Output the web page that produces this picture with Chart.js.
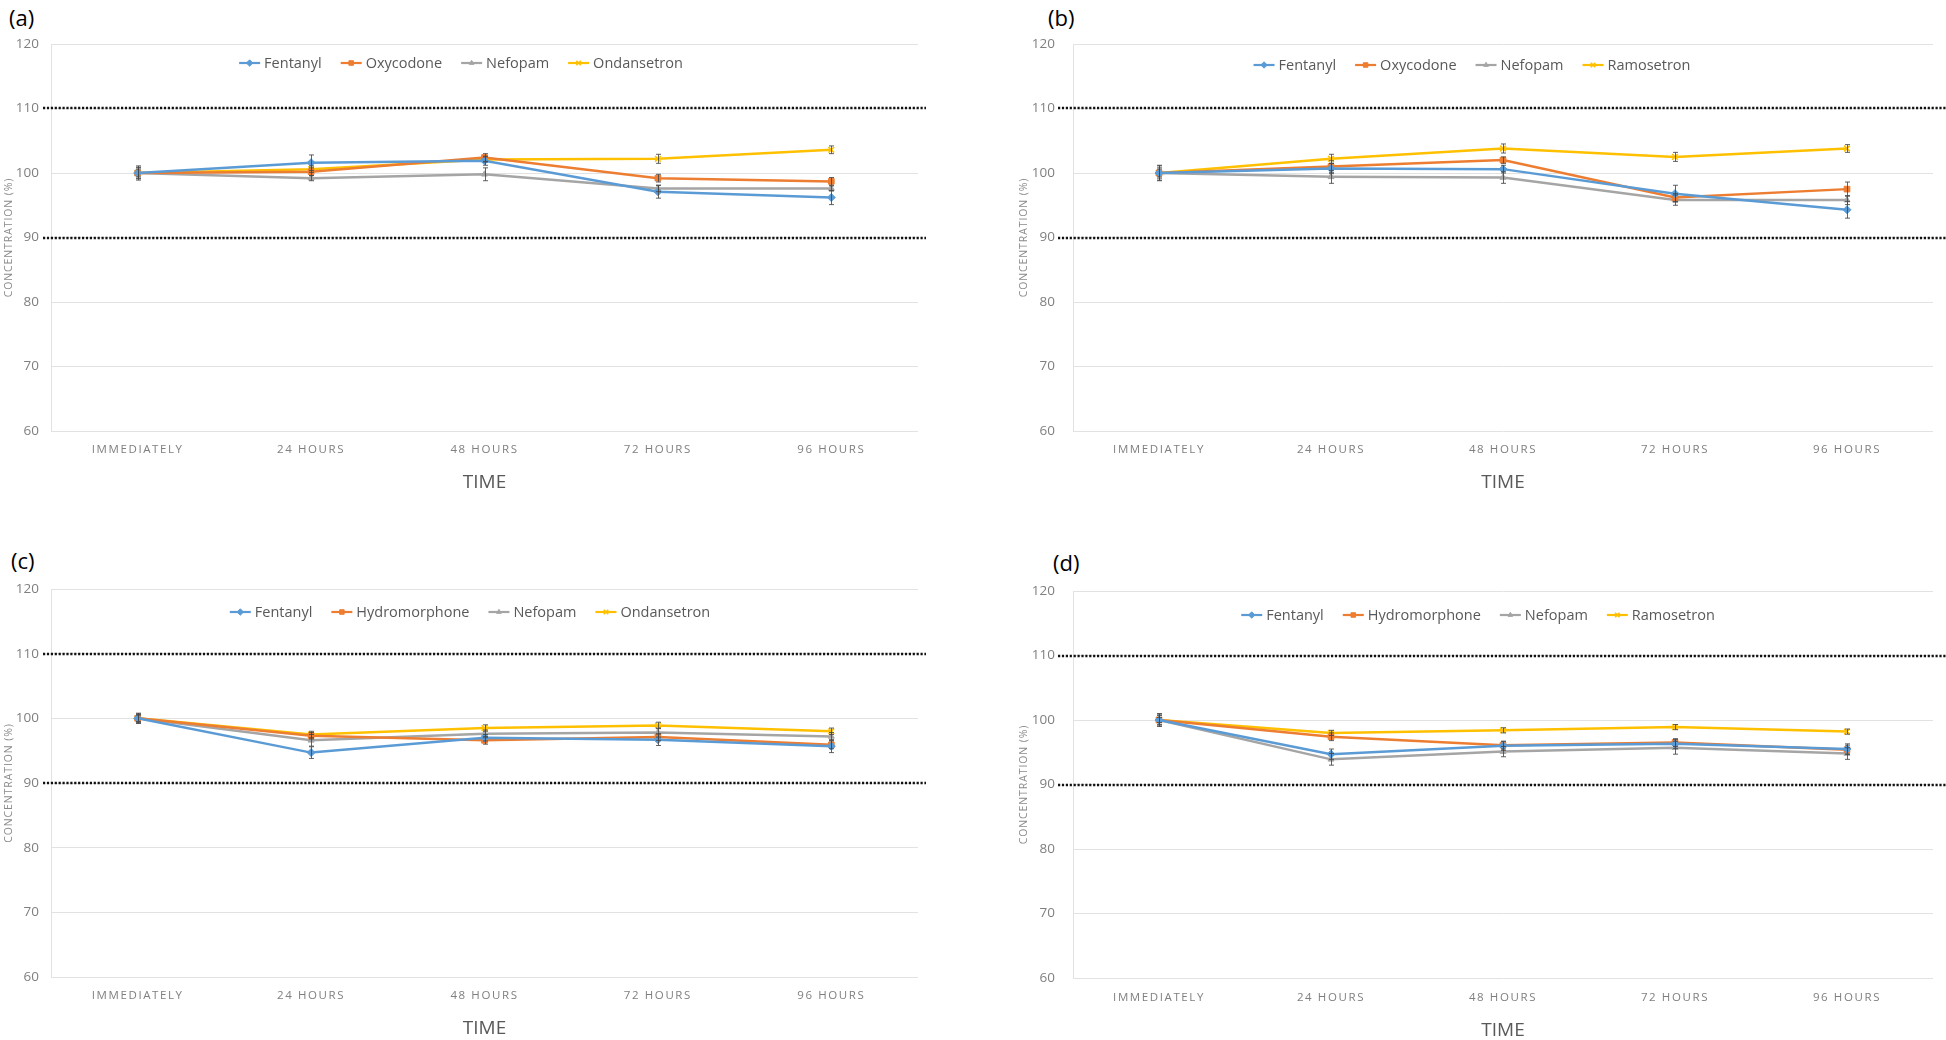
<!DOCTYPE html>
<html><head><meta charset="utf-8">
<script src="https://cdn.jsdelivr.net/npm/chart.js@4.4.1/dist/chart.umd.min.js"></script>
<style>
html,body{margin:0;padding:0;background:#fff;width:1946px;height:1040px;overflow:hidden;}
canvas{position:absolute;}
.lbl{position:absolute;font-family:"Open Sans",sans-serif;font-size:22px;color:#000;line-height:1;}
</style></head><body>
<div class="lbl" style="left:9px;top:6px">(a)</div>
<div class="lbl" style="left:1048px;top:6px">(b)</div>
<div class="lbl" style="left:11px;top:549px">(c)</div>
<div class="lbl" style="left:1053px;top:551px">(d)</div>
<canvas id="ca" width="973" height="520" style="left:0;top:0"></canvas>
<canvas id="cb" width="973" height="520" style="left:973px;top:0"></canvas>
<canvas id="cc" width="973" height="520" style="left:0;top:520px"></canvas>
<canvas id="cd" width="973" height="520" style="left:973px;top:520px"></canvas>
<script>
// ---------- data ----------
const categories = ['IMMEDIATELY', '24 HOURS', '48 HOURS', '72 HOURS', '96 HOURS'];
const yMin = 60, yMax = 120, yStep = 10;
const limitLines = [110, 90];
const xTitle = 'TIME';
const yTitle = 'CONCENTRATION (%)';

// (a)
const fentanylA     = [100, 101.6, 101.9, 97.1, 96.2];
const oxycodoneA    = [100, 100.2, 102.4, 99.2, 98.7];
const nefopamA      = [100, 99.2, 99.8, 97.6, 97.6];
const ondansetronA  = [100, 100.6, 102.1, 102.2, 103.6];
const fentanylA_sd    = [1.1, 1.2, 0.7, 1.0, 1.1];
const oxycodoneA_sd   = [0.8, 0.6, 0.6, 0.6, 0.6];
const nefopamA_sd     = [0.9, 0.4, 1.0, 0.5, 0.4];
const ondansetronA_sd = [0.6, 0.5, 0.4, 0.7, 0.6];

// (b)
const fentanylB     = [100, 100.7, 100.6, 96.8, 94.3];
const oxycodoneB    = [100, 101.0, 102.0, 96.2, 97.5];
const nefopamB      = [100, 99.4, 99.3, 95.8, 95.8];
const ramosetronB   = [100, 102.2, 103.8, 102.5, 103.8];
const fentanylB_sd    = [1.1, 0.8, 0.6, 1.3, 1.3];
const oxycodoneB_sd   = [0.8, 0.9, 0.5, 0.6, 1.1];
const nefopamB_sd     = [1.2, 1.0, 0.9, 0.8, 0.7];
const ramosetronB_sd  = [0.6, 0.7, 0.7, 0.7, 0.6];

// (c)
const fentanylC      = [100, 94.7, 97.0, 96.7, 95.7];
const hydromorphoneC = [100, 97.3, 96.6, 97.1, 95.9];
const nefopamC       = [100, 96.6, 97.6, 97.8, 97.2];
const ondansetronC   = [100, 97.5, 98.5, 98.9, 98.0];
const fentanylC_sd      = [0.7, 0.9, 0.5, 0.9, 1.0];
const hydromorphoneC_sd = [0.6, 0.5, 0.6, 0.5, 0.6];
const nefopamC_sd       = [0.8, 0.9, 0.6, 0.7, 0.6];
const ondansetronC_sd   = [0.5, 0.5, 0.5, 0.5, 0.5];

// (d)
const fentanylD      = [100, 94.7, 96.0, 96.3, 95.5];
const hydromorphoneD = [100, 97.4, 96.1, 96.5, 95.4];
const nefopamD       = [100, 93.9, 95.1, 95.7, 94.8];
const ramosetronD    = [100, 98.0, 98.4, 98.9, 98.2];
const fentanylD_sd      = [1.0, 0.8, 0.7, 0.7, 0.8];
const hydromorphoneD_sd = [0.7, 0.6, 0.6, 0.6, 0.7];
const nefopamD_sd       = [0.9, 0.9, 0.8, 1.0, 0.9];
const ramosetronD_sd    = [0.4, 0.4, 0.4, 0.4, 0.4];

// ---------- styles ----------
const C_BLUE = '#5B9BD5', C_ORANGE = '#ED7D31', C_GRAY = '#A5A5A5', C_GOLD = '#FFC000';
const FONT = '"Open Sans", "Noto Sans", sans-serif';

function ds(label, data, err, color, style, radius) {
  return {
    label, data, err,
    borderColor: color, backgroundColor: color,
    pointBackgroundColor: color, pointBorderColor: color,
    pointStyle: style, pointRadius: radius, pointHoverRadius: radius,
    pointBorderWidth: style === 'crossRot' ? 1.6 : 1,
    borderWidth: 2.5, tension: 0, fill: false
  };
}

const refLinePlugin = {
  id: 'refLines',
  beforeDatasetsDraw(chart, args, o) {
    const ctx = chart.ctx, ys = chart.scales.y;
    ctx.save();
    ctx.strokeStyle = '#111';
    ctx.lineWidth = 2.6;
    ctx.setLineDash([2.2, 1.7]);
    limitLines.forEach(v => {
      const y = Math.round(ys.getPixelForValue(v));
      ctx.beginPath(); ctx.moveTo(o.x0, y); ctx.lineTo(o.x1, y); ctx.stroke();
    });
    ctx.restore();
  }
};

const errorBarPlugin = {
  id: 'errBars',
  afterDatasetsDraw(chart) {
    const ctx = chart.ctx, ys = chart.scales.y;
    ctx.save();
    ctx.strokeStyle = 'rgba(70,70,70,0.85)';
    ctx.lineWidth = 1;
    chart.data.datasets.forEach((d, i) => {
      const meta = chart.getDatasetMeta(i);
      meta.data.forEach((pt, j) => {
        const v = d.data[j], e = d.err[j];
        const yt = ys.getPixelForValue(v + e), yb = ys.getPixelForValue(v - e);
        const x = Math.round(pt.x) + 0.5;
        ctx.beginPath();
        ctx.moveTo(x, yt); ctx.lineTo(x, yb);
        ctx.moveTo(x - 2.5, yt); ctx.lineTo(x + 2.5, yt);
        ctx.moveTo(x - 2.5, yb); ctx.lineTo(x + 2.5, yb);
        ctx.stroke();
      });
    });
    ctx.restore();
  }
};

const legendPlugin = {
  id: 'innerLegend',
  afterDraw(chart, args, o) {
    const ctx = chart.ctx;
    ctx.save();
    ctx.font = '14.5px ' + FONT;
    ctx.textBaseline = 'middle';
    const symW = 21, gapT = 4, gapI = 19;
    const items = chart.data.datasets.map(d => ({d, w: ctx.measureText(d.label).width}));
    let total = 0;
    items.forEach((it, k) => { total += symW + gapT + it.w + (k < items.length - 1 ? gapI : 0); });
    let x = o.cx - total / 2;
    const y = o.cy;
    items.forEach(it => {
      const d = it.d;
      ctx.strokeStyle = d.borderColor; ctx.fillStyle = d.borderColor;
      ctx.lineWidth = 2.2; ctx.setLineDash([]);
      ctx.beginPath(); ctx.moveTo(x, y); ctx.lineTo(x + symW, y); ctx.stroke();
      ctx.lineWidth = d.pointBorderWidth;
      Chart.helpers.drawPoint(ctx, {
        pointStyle: d.pointStyle, radius: d.pointRadius - 0.8, rotation: 0,
        borderWidth: d.pointBorderWidth
      }, x + symW / 2, y);
      ctx.fillStyle = '#595959';
      ctx.fillText(d.label, x + symW + gapT, y + 0.5);
      x += symW + gapT + it.w + gapI;
    });
    ctx.restore();
  }
};

const spacingPlugin = {
  id: 'letterSpacing',
  beforeDraw(chart) {
    const xs = chart.scales.x, ys = chart.scales.y, ctx = chart.ctx;
    if (!xs.__wrapped) {
      const orig = xs.drawLabels;
      xs.drawLabels = function (ca) { ctx.save(); ctx.letterSpacing = '1.6px'; orig.call(this, ca); ctx.restore(); };
      xs.__wrapped = true;
    }
    if (!ys.__wrapped) {
      const orig = ys.drawTitle;
      ys.drawTitle = function () { ctx.save(); ctx.letterSpacing = '0.9px'; orig.call(this); ctx.restore(); };
      ys.__wrapped = true;
    }
  }
};

function makeChart(id, datasets, p) {
  new Chart(document.getElementById(id), {
    type: 'line',
    data: { labels: categories, datasets },
    plugins: [spacingPlugin, refLinePlugin, errorBarPlugin, legendPlugin],
    options: {
      responsive: false, animation: false, devicePixelRatio: 1,
      layout: { padding: { top: p.padTop, right: p.padRight, bottom: 0, left: 0 } },
      plugins: {
        legend: { display: false }, tooltip: { enabled: false }, title: { display: false },
        refLines: { x0: p.refX0, x1: p.refX1 },
        innerLegend: { cx: p.legendCx, cy: p.legendCy }
      },
      scales: {
        x: {
          type: 'category', offset: true,
          grid: { display: false, drawTicks: false },
          border: { display: false },
          ticks: { autoSkip: false, maxRotation: 0, minRotation: 0, padding: p.xTickPad,
                   color: '#7f7f7f', font: { family: FONT, size: 11.5 } },
          title: { display: true, text: xTitle, color: '#595959',
                   font: { family: FONT, size: 19 }, padding: { top: 0, bottom: p.xTitlePadBottom } },
          afterFit(s) { s.height = p.xH; }
        },
        y: {
          min: yMin, max: yMax,
          grid: { color: '#e2e2e2', lineWidth: 1, drawTicks: false },
          border: { display: true, color: '#e2e2e2', width: 1 },
          ticks: { stepSize: yStep, padding: p.yTickPad, color: '#7f7f7f',
                   font: { family: FONT, size: 13.5 } },
          title: { display: true, text: yTitle, color: '#8a8a8a',
                   font: { family: FONT, size: 10.5 }, padding: { top: p.yTitlePadTop, bottom: 0 } },
          afterFit(s) { s.width = p.yW; }
        }
      }
    }
  });
}

makeChart('ca', [
  ds('Fentanyl', fentanylA, fentanylA_sd, C_BLUE, 'rectRot', 4),
  ds('Oxycodone', oxycodoneA, oxycodoneA_sd, C_ORANGE, 'rect', 4),
  ds('Nefopam', nefopamA, nefopamA_sd, C_GRAY, 'triangle', 3.5),
  ds('Ondansetron', ondansetronA, ondansetronA_sd, C_GOLD, 'crossRot', 4)
], { padTop: 44, padRight: 55, yW: 51, yTickPad: 12, yTitlePadTop: 3, xH: 89, xTickPad: 12,
     xTitlePadBottom: 26, legendCx: 461, legendCy: 63, refX0: 43, refX1: 926 });

makeChart('cb', [
  ds('Fentanyl', fentanylB, fentanylB_sd, C_BLUE, 'rectRot', 4),
  ds('Oxycodone', oxycodoneB, oxycodoneB_sd, C_ORANGE, 'rect', 4),
  ds('Nefopam', nefopamB, nefopamB_sd, C_GRAY, 'triangle', 3.5),
  ds('Ramosetron', ramosetronB, ramosetronB_sd, C_GOLD, 'crossRot', 4)
], { padTop: 44, padRight: 13, yW: 100, yTickPad: 18, yTitlePadTop: 45, xH: 89, xTickPad: 12,
     xTitlePadBottom: 26, legendCx: 499, legendCy: 65, refX0: 85, refX1: 973 });

makeChart('cc', [
  ds('Fentanyl', fentanylC, fentanylC_sd, C_BLUE, 'rectRot', 4),
  ds('Hydromorphone', hydromorphoneC, hydromorphoneC_sd, C_ORANGE, 'rect', 4),
  ds('Nefopam', nefopamC, nefopamC_sd, C_GRAY, 'triangle', 3.5),
  ds('Ondansetron', ondansetronC, ondansetronC_sd, C_GOLD, 'crossRot', 4)
], { padTop: 69, padRight: 55, yW: 51, yTickPad: 12, yTitlePadTop: 3, xH: 63, xTickPad: 12,
     xTitlePadBottom: 0, legendCx: 470, legendCy: 92, refX0: 43, refX1: 926 });

makeChart('cd', [
  ds('Fentanyl', fentanylD, fentanylD_sd, C_BLUE, 'rectRot', 4),
  ds('Hydromorphone', hydromorphoneD, hydromorphoneD_sd, C_ORANGE, 'rect', 4),
  ds('Nefopam', nefopamD, nefopamD_sd, C_GRAY, 'triangle', 3.5),
  ds('Ramosetron', ramosetronD, ramosetronD_sd, C_GOLD, 'crossRot', 4)
], { padTop: 71, padRight: 13, yW: 100, yTickPad: 18, yTitlePadTop: 45, xH: 62, xTickPad: 13,
     xTitlePadBottom: -2, legendCx: 505, legendCy: 95, refX0: 85, refX1: 973 });
</script>
</body></html>
